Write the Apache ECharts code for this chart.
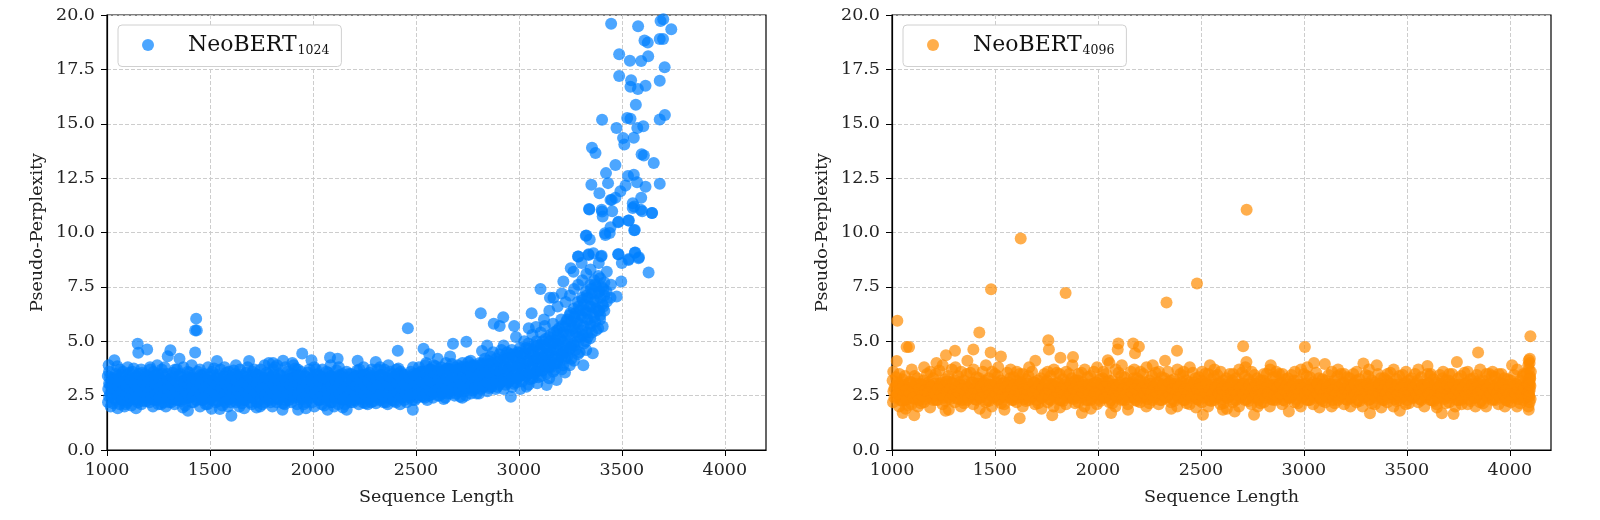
<!DOCTYPE html>
<html>
<head>
<meta charset="utf-8">
<script src="https://cdn.jsdelivr.net/npm/echarts@6/dist/echarts.min.js"></script>
<style>
    html, body { margin: 0; padding: 0; background: #fff; }
    #chart { width: 1600px; height: 520px; }
</style>
</head>
<body>
<div id="chart"></div>
<script>
// x ticks / y ticks
const xTicks = [1000, 1500, 2000, 2500, 3000, 3500, 4000];
const yTicks = [0, 2.5, 5, 7.5, 10, 12.5, 15, 17.5, 20];

// [sequence length, pseudo-perplexity]
const neo1024 = [
    [1005,2.2],[1006,2.8],[1004,3.4],[1008,3.9],[1020,2.5],[1022,3.1],[1036,4.13],[1018,2.0],
    [1040,2.3],[1038,2.9],[1042,3.5],[1052,1.92],[1060,2.6],[1058,3.2],[1062,2.1],[1063,3.7],
    [1080,2.4],[1082,3.0],[1078,3.6],[1085,2.0],[1100,2.7],[1098,2.2],[1103,3.3],[1101,3.8],
    [1120,2.5],[1122,3.1],[1118,2.05],[1124,3.6],[1141,1.92],[1145,2.8],[1147,2.3],[1149,4.89],
    [1152,4.47],[1143,3.4],[1165,2.6],[1163,3.2],[1167,2.1],[1166,3.7],[1185,2.4],[1187,3.0],
    [1183,3.5],[1195,4.62],[1205,2.7],[1207,2.2],[1203,3.3],[1209,3.8],[1225,2.5],[1227,3.1],
    [1223,2.0],[1226,3.6],[1245,2.9],[1243,2.3],[1247,3.5],[1244,3.9],[1265,2.6],[1267,3.2],
    [1263,2.1],[1266,3.7],[1295,4.31],[1288,2.4],[1290,3.0],[1292,3.5],[1286,2.0],[1308,4.59],
    [1310,2.8],[1312,2.2],[1309,3.3],[1330,2.5],[1332,3.1],[1328,2.1],[1331,3.7],[1352,4.2],
    [1350,2.7],[1348,2.3],[1351,3.4],[1370,2.6],[1372,3.2],[1368,1.95],[1371,3.8],[1393,1.81],
    [1390,2.4],[1388,3.0],[1392,3.6],[1410,2.8],[1412,2.2],[1408,3.4],[1411,3.9],[1428,5.5],
    [1433,6.04],[1436,5.5],[1428,4.48],[1430,2.6],[1432,3.1],[1450,2.5],[1452,2.0],[1448,3.3],
    [1451,3.7],[1470,2.9],[1468,2.3],[1472,3.5],[1490,2.6],[1492,3.2],[1488,2.1],[1491,3.8],
    [1510,2.4],[1512,3.0],[1508,1.9],[1511,3.6],[1534,4.09],[1530,2.7],[1528,2.2],[1532,3.3],
    [1550,2.5],[1552,3.1],[1548,1.88],[1551,3.7],[1570,2.8],[1572,2.3],[1568,3.4],[1571,3.8],
    [1590,2.6],[1592,3.2],[1588,2.0],[1591,3.6],[1604,1.57],[1607,2.4],[1603,3.0],[1625,2.7],
    [1627,2.2],[1623,3.5],[1626,3.9],[1645,2.5],[1647,3.1],[1643,2.0],[1646,3.7],[1665,2.9],
    [1667,2.3],[1663,3.4],[1666,1.92],[1690,4.09],[1685,2.6],[1687,3.2],[1683,3.8],[1705,2.4],
    [1707,3.0],[1703,2.1],[1706,3.6],[1725,2.8],[1727,2.2],[1723,3.5],[1726,1.95],[1745,2.6],
    [1747,3.1],[1743,2.0],[1746,3.7],[1765,3.9],[1767,2.5],[1763,3.3],[1766,2.2],[1785,2.9],
    [1787,2.3],[1783,3.5],[1786,4.0],[1806,4.0],[1805,2.6],[1807,3.2],[1803,2.0],[1808,3.7],
    [1825,2.4],[1827,3.0],[1823,2.2],[1826,3.9],[1855,4.1],[1845,2.8],[1852,1.85],[1843,3.4],
    [1865,2.6],[1867,3.1],[1863,2.1],[1866,3.8],[1885,2.5],[1887,3.3],[1883,2.3],[1900,4.0],
    [1905,2.9],[1928,1.85],[1903,3.5],[1906,3.9],[1925,2.6],[1927,3.2],[1923,2.1],[1926,3.7],
    [1948,4.44],[1945,2.4],[1947,3.0],[1943,3.6],[1965,2.8],[1967,2.2],[1963,3.4],[1966,1.92],
    [1993,4.13],[1985,2.6],[1987,3.1],[1983,3.7],[2005,2.5],[2007,2.0],[2003,3.3],[2006,3.8],
    [2025,2.9],[2027,2.3],[2023,3.5],[2045,2.6],[2047,3.2],[2043,2.1],[2046,3.7],[2065,2.4],
    [2067,3.0],[2071,1.85],[2066,3.6],[2083,4.25],[2085,2.8],[2087,2.2],[2088,3.4],[2086,3.9],
    [2105,2.6],[2107,3.1],[2103,2.0],[2120,4.2],[2125,2.5],[2127,3.3],[2123,2.1],[2126,3.8],
    [2145,1.95],[2147,2.9],[2143,3.5],[2146,2.3],[2164,1.85],[2165,2.6],[2167,3.2],[2163,3.6],
    [2185,2.4],[2187,3.0],[2183,2.2],[2186,3.5],[2217,4.1],[2205,2.8],[2207,3.4],[2203,2.3],
    [2225,2.6],[2227,3.1],[2223,2.1],[2226,3.7],[2245,2.5],[2247,3.3],[2243,2.2],[2246,3.8],
    [2265,2.9],[2267,2.4],[2263,3.5],[2266,2.1],[2285,2.7],[2287,3.2],[2283,2.2],[2286,3.7],
    [2305,4.05],[2307,2.5],[2303,3.0],[2306,2.15],[2325,2.8],[2327,2.3],[2323,3.4],[2326,3.8],
    [2345,2.6],[2347,3.1],[2343,2.2],[2346,3.7],[2365,2.4],[2367,3.3],[2363,2.1],[2366,3.9],
    [2385,2.9],[2387,2.3],[2383,3.5],[2405,2.7],[2407,3.2],[2403,2.2],[2406,3.7],[2412,4.56],
    [2425,2.5],[2427,3.0],[2423,2.1],[2426,3.6],[2445,2.8],[2447,3.4],[2443,2.3],[2461,5.6],
    [2465,2.6],[2467,3.1],[2485,1.85],[2485,2.7],[2487,3.3],[2483,2.3],[2486,3.8],[2505,2.9],
    [2507,2.4],[2503,3.5],[2525,3.0],[2527,2.5],[2523,3.6],[2537,4.66],[2550,4.0],[2545,2.8],
    [2547,3.3],[2543,2.4],[2546,3.9],[2565,4.4],[2567,3.1],[2563,2.5],[2566,3.7],[2585,2.9],
    [2587,3.4],[2583,2.4],[2586,3.9],[2605,3.0],[2607,2.5],[2603,3.6],[2606,4.2],[2625,3.2],
    [2627,2.6],[2623,3.8],[2645,2.9],[2647,3.4],[2643,2.4],[2646,4.0],[2665,3.1],[2667,2.6],
    [2663,3.7],[2666,4.3],[2680,4.88],[2685,3.0],[2687,2.5],[2683,3.6],[2705,3.2],[2707,2.7],
    [2703,3.9],[2725,2.4],[2727,3.4],[2723,2.9],[2726,4.0],[2745,4.98],[2747,3.2],[2743,2.5],
    [2746,3.7],[2765,3.0],[2767,2.6],[2763,3.6],[2766,4.1],[2785,3.3],[2787,2.8],[2783,3.9],
    [2815,6.29],[2805,3.1],[2807,2.6],[2803,3.6],[2821,4.55],[2825,3.4],[2827,2.9],[2823,4.0],
    [2826,3.7],[2845,3.2],[2847,2.7],[2843,3.8],[2846,4.8],[2865,3.5],[2867,2.9],[2863,4.3],
    [2878,5.8],[2885,3.3],[2887,2.8],[2883,3.9],[2907,5.7],[2905,3.6],[2903,3.0],[2906,4.4],
    [2924,6.1],[2925,3.4],[2927,2.8],[2923,4.1],[2926,4.8],[2945,3.7],[2947,3.1],[2943,4.5],
    [2961,2.45],[2965,3.3],[2967,2.9],[2963,3.8],[2966,4.6],[2977,5.7],[2985,3.6],[2987,3.1],
    [2983,4.2],[2986,5.2],[3005,3.4],[3007,2.8],[3003,3.9],[3006,4.7],[3025,3.7],[3037,2.91],
    [3023,4.4],[3026,5.0],[3045,3.5],[3047,3.0],[3043,4.1],[3046,4.9],[3048,5.6],[3062,6.29],
    [3065,3.8],[3067,3.3],[3063,4.5],[3066,5.3],[3083,5.65],[3085,3.6],[3089,3.07],[3083,4.2],
    [3086,5.0],[3105,7.4],[3105,3.9],[3107,3.4],[3103,4.6],[3106,5.4],[3122,6.0],[3125,4.1],
    [3135,2.99],[3123,4.8],[3126,5.7],[3151,7.0],[3145,3.8],[3147,3.3],[3143,4.4],[3146,5.2],
    [3148,6.4],[3165,4.2],[3167,3.6],[3163,4.9],[3166,5.8],[3168,7.0],[3183,3.22],[3185,4.0],
    [3187,4.6],[3186,5.5],[3188,6.6],[3205,4.4],[3207,3.7],[3203,5.1],[3206,6.0],[3208,7.2],
    [3216,7.75],[3224,3.56],[3225,4.2],[3227,4.8],[3226,5.7],[3228,6.8],[3245,4.6],[3247,3.9],
    [3243,5.3],[3246,6.2],[3248,7.1],[3252,8.36],[3265,4.9],[3267,4.1],[3263,5.6],[3266,6.5],
    [3268,7.4],[3265,8.2],[3285,5.2],[3287,4.4],[3283,5.9],[3286,6.8],[3288,7.6],[3289,8.9],
    [3287,8.9],[3305,5.5],[3313,3.9],[3303,6.2],[3306,7.0],[3308,7.8],[3305,8.6],[3325,5.0],
    [3327,4.6],[3323,6.4],[3326,7.3],[3328,8.1],[3325,9.85],[3328,9.86],[3338,8.97],[3345,5.8],
    [3346,5.14],[3343,6.6],[3346,7.6],[3348,8.3],[3341,11.08],[3342,11.06],[3344,9.68],[3339,9.0],
    [3352,12.2],[3355,13.9],[3362,9.05],[3365,6.1],[3359,4.45],[3363,6.9],[3366,7.8],[3372,13.65],
    [3385,5.6],[3387,6.4],[3383,7.2],[3386,8.0],[3388,8.6],[3391,11.8],[3394,6.0],[3399,8.9],
    [3402,8.93],[3402,11.05],[3404,10.96],[3404,15.18],[3407,5.68],[3405,6.7],[3403,7.5],[3407,10.73],
    [3418,9.97],[3420,9.89],[3423,12.73],[3427,6.83],[3425,7.3],[3427,8.2],[3433,12.27],[3441,9.98],
    [3445,7.0],[3447,7.6],[3445,10.24],[3445,11.5],[3448,19.6],[3451,11.5],[3453,10.98],[3469,13.1],
    [3469,11.6],[3474,14.8],[3475,7.06],[3482,9.0],[3482,10.47],[3484,9.0],[3484,10.5],[3487,18.19],
    [3487,17.2],[3493,11.9],[3497,7.75],[3500,8.6],[3506,14.34],[3512,14.05],[3518,12.16],[3526,15.26],
    [3530,12.6],[3532,8.74],[3532,10.55],[3534,8.78],[3534,10.55],[3539,17.9],[3542,16.7],[3542,15.23],
    [3545,17.0],[3553,11.35],[3553,11.13],[3558,14.36],[3558,12.65],[3560,10.1],[3560,11.2],[3563,10.12],
    [3563,9.07],[3565,9.08],[3568,15.87],[3574,12.31],[3575,14.8],[3578,16.6],[3579,19.48],[3581,8.82],
    [3583,8.86],[3592,11.05],[3594,11.6],[3594,17.88],[3596,13.6],[3599,10.98],[3604,14.88],[3607,13.54],
    [3610,18.83],[3615,16.75],[3615,12.1],[3626,18.73],[3628,18.1],[3630,8.16],[3646,10.9],[3647,10.9],
    [3655,13.2],[3684,18.9],[3684,16.98],[3684,15.2],[3684,12.24],[3688,19.72],[3700,18.9],[3701,19.8],
    [3708,17.6],[3709,15.4],[3740,19.34]
];

// more points from the dense part of the left band
const neo1024Band = [
    [1010,2.45],[1010,3.05],[1010,3.6],[1030,2.15],[1030,2.75],[1030,3.3],[1050,2.6],[1050,3.25],
    [1050,3.85],[1070,2.35],[1070,2.9],[1070,3.45],[1090,2.7],[1090,3.15],[1090,2.1],[1110,2.3],
    [1110,2.95],[1110,3.55],[1130,2.55],[1130,3.2],[1130,3.75],[1150,2.2],[1150,2.65],[1150,3.3],
    [1170,2.45],[1170,3.0],[1170,3.55],[1190,2.75],[1190,2.25],[1190,3.35],[1210,2.5],[1210,3.05],
    [1210,3.7],[1230,2.3],[1230,2.85],[1230,3.4],[1250,2.6],[1250,3.2],[1250,2.1],[1270,2.4],
    [1270,2.95],[1270,3.5],[1280,3.8],[1300,2.65],[1300,3.15],[1300,2.2],[1320,2.35],[1320,2.9],
    [1320,3.55],[1340,2.55],[1340,3.1],[1340,3.7],[1360,2.25],[1360,2.8],[1360,3.35],[1380,2.6],
    [1380,3.2],[1380,2.05],[1400,2.4],[1400,2.95],[1400,3.55],[1420,2.2],[1420,2.7],[1420,3.25],
    [1440,2.55],[1440,3.05],[1440,3.6],[1460,2.3],[1460,2.85],[1460,3.4],[1480,2.65],[1480,3.2],
    [1480,2.1],[1500,2.35],[1500,2.9],[1500,3.5],[1520,2.55],[1520,3.15],[1520,3.75],[1540,2.25],
    [1540,2.75],[1540,3.35],[1560,2.6],[1560,3.05],[1560,2.05],[1580,2.4],[1580,2.95],[1580,3.55],
    [1600,2.2],[1600,2.7],[1600,3.3],[1615,2.55],[1615,3.1],[1615,3.65],[1635,2.3],[1635,2.85],
    [1635,3.4],[1655,2.6],[1655,3.2],[1655,2.15],[1675,2.4],[1675,2.95],[1675,3.55],[1695,2.2],
    [1695,2.75],[1695,3.3],[1715,2.55],[1715,3.1],[1715,3.7],[1735,2.35],[1735,2.9],[1735,3.45],
    [1755,2.65],[1755,3.2],[1755,2.1],[1775,2.4],[1775,3.0],[1775,3.55],[1795,2.2],[1795,2.75],
    [1795,3.35],[1815,2.55],[1815,3.1],[1815,3.8],[1835,2.35],[1835,2.9],[1835,3.5],[1855,2.65],
    [1855,3.2],[1855,2.15],[1875,2.4],[1875,2.95],[1875,3.6],[1895,2.2],[1895,2.75],[1895,3.3],
    [1915,2.55],[1915,3.1],[1915,3.75],[1935,2.35],[1935,2.85],[1935,3.45],[1955,2.6],[1955,3.2],
    [1955,2.1],[1975,2.4],[1975,2.95],[1975,3.55],[1995,2.2],[1995,2.7],[1995,3.3],[2015,2.55],
    [2015,3.1],[2015,3.7],[2035,2.3],[2035,2.85],[2035,3.4],[2055,2.6],[2055,3.15],[2055,2.05],
    [2075,2.4],[2075,2.95],[2075,3.55],[2095,2.2],[2095,2.75],[2095,3.35],[2115,2.55],[2115,3.1],
    [2115,3.65],[2135,2.35],[2135,2.85],[2135,3.4],[2155,2.6],[2155,3.2],[2155,2.1],[2175,2.4],
    [2175,2.95],[2175,3.5],[2195,2.2],[2195,2.7],[2195,3.3],[2215,2.55],[2215,3.1],[2215,3.65],
    [2235,2.35],[2235,2.9],[2235,3.45],[2255,2.6],[2255,3.2],[2255,2.15],[2275,2.4],[2275,2.95],
    [2275,3.55],[2295,2.25],[2295,2.75],[2295,3.35],[2315,2.55],[2315,3.1],[2315,3.7],[2335,2.4],
    [2335,2.9],[2335,3.45],[2355,2.65],[2355,3.2],[2355,2.2],[2375,2.45],[2375,3.0],[2375,3.6],
    [2395,2.25],[2395,2.8],[2395,3.35],[2415,2.6],[2415,3.15],[2415,3.75],[2435,2.4],[2435,2.9],
    [2435,3.5],[2455,2.7],[2455,3.25],[2455,2.2],[2475,2.5],[2475,3.05],[2475,3.6],[2495,2.3],
    [2495,2.85],[2495,3.4],[2515,2.65],[2515,3.2],[2515,3.8],[2535,2.45],[2535,3.0],[2535,3.55],
    [2555,2.75],[2555,3.35],[2555,2.3],[2575,2.55],[2575,3.1],[2575,3.7],[2595,2.7],[2595,3.25],
    [2595,3.85],[2615,2.5],[2615,3.05],[2615,3.6],[2635,2.8],[2635,3.4],[2635,2.35],[2655,2.6],
    [2655,3.15],[2655,3.75],[2675,2.75],[2675,3.35],[2675,3.95],[2695,2.6],[2695,3.1],[2695,3.7],
    [2715,2.85],[2715,3.45],[2715,2.45],[2735,2.7],[2735,3.2],[2735,3.8],[2755,2.9],[2755,3.5],
    [2755,4.05],[2775,2.75],[2775,3.25],[2775,3.85],[2795,2.95],[2795,3.55],[2795,2.6],[2815,2.8],
    [2815,3.3],[2815,3.9],[2835,3.0],[2835,3.6],[2835,4.2],[2855,2.85],[2855,3.35],[2855,3.95],
    [2875,3.1],[2875,3.65],[2875,4.5],[2895,2.9],[2895,3.45],[2895,4.05],[2915,3.15],[2915,3.75],
    [2915,4.6],[2935,3.0],[2935,3.5],[2935,4.2],[2955,3.25],[2955,3.85],[2955,4.4],[2975,3.05],
    [2975,3.6],[2975,4.3],[2995,3.3],[2995,3.9],[2995,4.5],[3015,3.15],[3015,3.65],[3015,4.35],
    [3035,3.4],[3035,4.0],[3035,4.7],[3055,3.25],[3055,3.75],[3055,4.45],[3075,3.5],[3075,4.1],
    [3075,4.8],[3095,3.35],[3095,3.9],[3095,4.55],[3115,3.65],[3115,4.3],[3115,5.0],[3135,3.5],
    [3135,4.05],[3135,4.7],[3155,3.8],[3155,4.5],[3155,5.3],[3175,3.7],[3175,4.3],[3175,5.05],
    [3195,4.0],[3195,4.8],[3195,5.6],[3215,3.9],[3215,4.5],[3215,5.4],[3235,4.3],[3235,5.0],
    [3235,6.0],[3255,4.2],[3255,4.8],[3255,5.9],[3275,4.6],[3275,5.4],[3275,6.3],[3295,4.5],
    [3295,5.2],[3295,6.4],[3315,4.9],[3315,5.7],[3315,6.7],[3335,5.2],[3335,6.0],[3335,7.0],
    [3355,5.4],[3355,6.3],[3355,7.2],[3375,5.5],[3375,6.5],[3375,7.5],[3395,6.2],[3395,7.0],
    [3395,7.9],[3415,6.4],[3415,7.1],[3415,7.7]
];

// core of the left band, where the marks pile up solid
const neo1024Core = [
    [1015,2.6],[1015,3.0],[1015,3.35],[1035,2.4],[1035,2.85],[1035,3.2],[1055,2.5],[1055,2.95],
    [1055,3.4],[1075,2.3],[1075,2.7],[1075,3.1],[1095,2.55],[1095,2.95],[1095,3.45],[1115,2.4],
    [1115,2.8],[1115,3.25],[1135,2.35],[1135,2.75],[1135,3.05],[1155,2.5],[1155,2.9],[1155,3.5],
    [1175,2.25],[1175,2.7],[1175,3.15],[1195,2.55],[1195,2.9],[1195,3.4],[1215,2.35],[1215,2.8],
    [1215,3.2],[1235,2.6],[1235,3.0],[1235,3.45],[1255,2.4],[1255,2.8],[1255,3.3],[1275,2.55],
    [1275,3.05],[1275,2.2],[1295,2.45],[1295,2.85],[1295,3.25],[1315,2.6],[1315,3.0],[1315,3.4],
    [1335,2.3],[1335,2.75],[1335,3.2],[1355,2.5],[1355,2.95],[1355,3.5],[1375,2.35],[1375,2.8],
    [1375,3.1],[1395,2.55],[1395,3.05],[1395,3.35],[1415,2.45],[1415,2.9],[1415,3.3],[1435,2.3],
    [1435,2.75],[1435,3.2],[1455,2.6],[1455,3.0],[1455,3.45],[1475,2.4],[1475,2.8],[1475,3.25],
    [1495,2.5],[1495,2.95],[1495,3.35],[1515,2.3],[1515,2.75],[1515,3.2],[1535,2.55],[1535,3.0],
    [1535,3.45],[1555,2.4],[1555,2.85],[1555,3.25],[1575,2.6],[1575,3.05],[1575,2.2],[1595,2.35],
    [1595,2.8],[1595,3.4],[1610,2.55],[1610,2.95],[1610,3.3],[1630,2.4],[1630,2.8],[1630,3.2],
    [1650,2.5],[1650,2.95],[1650,3.45],[1670,2.3],[1670,2.7],[1670,3.1],[1690,2.55],[1690,3.0],
    [1690,3.4],[1710,2.4],[1710,2.8],[1710,3.25],[1730,2.6],[1730,3.05],[1730,3.45],[1750,2.35],
    [1750,2.8],[1750,3.3],[1770,2.5],[1770,2.9],[1770,3.35],[1790,2.4],[1790,2.85],[1790,3.2],
    [1810,2.6],[1810,3.0],[1810,3.45],[1830,2.35],[1830,2.75],[1830,3.25],[1850,2.5],[1850,2.95],
    [1850,3.4],[1870,2.3],[1870,2.8],[1870,3.2],[1890,2.55],[1890,3.0],[1890,3.5],[1910,2.4],
    [1910,2.85],[1910,3.3],[1930,2.6],[1930,3.05],[1930,3.4],[1950,2.35],[1950,2.8],[1950,3.25],
    [1970,2.5],[1970,2.95],[1970,3.35],[1990,2.4],[1990,2.85],[1990,3.2],[2010,2.6],[2010,3.0],
    [2010,3.45],[2030,2.35],[2030,2.75],[2030,3.2],[2050,2.5],[2050,2.9],[2050,3.35],[2070,2.3],
    [2070,2.8],[2070,3.25],[2090,2.55],[2090,2.95],[2090,3.4],[2110,2.4],[2110,2.85],[2110,3.2],
    [2130,2.6],[2130,3.0],[2130,3.45],[2150,2.35],[2150,2.75],[2150,3.25],[2170,2.5],[2170,2.9],
    [2170,3.35],[2190,2.3],[2190,2.8],[2190,3.2],[2210,2.55],[2210,2.95],[2210,3.4],[2230,2.4],
    [2230,2.85],[2230,3.25],[2250,2.6],[2250,3.0],[2250,3.45],[2270,2.35],[2270,2.8],[2270,3.2],
    [2290,2.5],[2290,2.95],[2290,3.4],[2310,2.4],[2310,2.85],[2310,3.25],[2330,2.6],[2330,3.05],
    [2330,3.45],[2350,2.4],[2350,2.8],[2350,3.3],[2370,2.55],[2370,3.0],[2370,3.4],[2390,2.45],
    [2390,2.9],[2390,3.3],[2410,2.65],[2410,3.05],[2410,3.5],[2430,2.45],[2430,2.85],[2430,3.3],
    [2450,2.6],[2450,3.0],[2450,3.45],[2470,2.4],[2470,2.9],[2470,3.35],[2490,2.6],[2490,3.1],
    [2490,3.5],[2510,2.55],[2510,3.0],[2510,3.45],[2530,2.7],[2530,3.15],[2530,3.6],[2550,2.6],
    [2550,3.05],[2550,3.5],[2570,2.75],[2570,3.2],[2570,3.65],[2590,2.65],[2590,3.1],[2590,3.55],
    [2610,2.8],[2610,3.25],[2610,3.7],[2630,2.7],[2630,3.15],[2630,3.6],[2650,2.85],[2650,3.3],
    [2650,3.75],[2670,2.75],[2670,3.2],[2670,3.65],[2690,2.9],[2690,3.35],[2690,3.8],[2710,2.8],
    [2710,3.25],[2710,3.7],[2730,2.95],[2730,3.4],[2730,3.85],[2750,2.85],[2750,3.3],[2750,3.75],
    [2770,3.0],[2770,3.45],[2770,3.9],[2790,2.9],[2790,3.35],[2790,3.8],[2810,3.05],[2810,3.5],
    [2810,4.0],[2830,2.95],[2830,3.45],[2830,3.9],[2850,3.1],[2850,3.6],[2850,4.1],[2870,3.0],
    [2870,3.5],[2870,4.0],[2890,3.15],[2890,3.7],[2890,4.2],[2910,3.1],[2910,3.6],[2910,4.1],
    [2930,3.25],[2930,3.8],[2930,4.3],[2950,3.2],[2950,3.7],[2950,4.2],[2970,3.35],[2970,3.9],
    [2970,4.4],[2990,3.3],[2990,3.8],[2990,4.35],[3010,3.45],[3010,4.0],[3010,4.5],[3030,3.4],
    [3030,3.9],[3030,4.45],[3050,3.55],[3050,4.1],[3050,4.65],[3070,3.5],[3070,4.05],[3070,4.6],
    [3090,3.7],[3090,4.25],[3090,4.8],[3110,3.65],[3110,4.2],[3110,4.85],[3130,3.85],[3130,4.4],
    [3130,5.1],[3150,3.9],[3150,4.6],[3150,5.0],[3170,4.0],[3170,4.75],[3170,5.4],[3190,4.2],
    [3190,4.9],[3190,5.3],[3210,4.3],[3210,5.0],[3210,5.7],[3230,4.5],[3230,5.3],[3230,5.9],
    [3250,4.7],[3250,5.5],[3250,6.3],[3270,4.8],[3270,5.7],[3270,6.1],[3290,5.0],[3290,5.8],
    [3290,6.6],[3310,5.3],[3310,6.1],[3310,6.9],[3330,5.4],[3330,6.3],[3330,7.1],[3350,5.7],
    [3350,6.6],[3350,7.4],[3370,5.9],[3370,6.8],[3370,7.6],[3390,6.4],[3390,7.3],[3410,6.6],
    [3410,7.4]
];

// [sequence length, pseudo-perplexity]
const neo4096 = [
    [1005,2.2],[1007,2.7],[1003,3.2],[1006,3.6],[1023,4.09],[1026,5.94],[1035,2.0],[1037,2.5],
    [1033,3.0],[1036,3.5],[1052,1.7],[1065,2.3],[1067,2.9],[1063,3.4],[1066,1.9],[1071,4.74],
    [1083,4.74],[1095,2.1],[1097,2.6],[1093,3.1],[1096,3.7],[1108,1.6],[1125,2.4],[1127,2.8],
    [1123,3.3],[1126,2.0],[1155,2.2],[1157,2.7],[1153,3.2],[1156,3.8],[1185,1.95],[1187,2.5],
    [1183,3.0],[1186,3.6],[1215,2.3],[1217,2.9],[1213,3.5],[1216,4.0],[1245,2.1],[1247,2.6],
    [1243,3.1],[1246,3.9],[1260,1.8],[1262,4.36],[1275,2.4],[1277,2.8],[1273,3.4],[1276,1.85],
    [1306,4.56],[1305,2.2],[1307,2.7],[1303,3.2],[1308,3.8],[1335,2.0],[1337,2.5],[1333,3.0],
    [1336,3.6],[1365,2.3],[1367,2.9],[1363,3.5],[1366,4.1],[1395,4.62],[1395,2.1],[1397,2.6],
    [1393,3.1],[1396,3.7],[1424,5.4],[1425,2.4],[1427,2.8],[1423,3.3],[1426,1.9],[1455,1.7],
    [1455,2.2],[1457,2.7],[1453,3.2],[1456,3.9],[1479,4.48],[1481,7.39],[1485,2.0],[1487,2.5],
    [1483,3.0],[1486,3.6],[1515,2.3],[1517,2.9],[1513,3.4],[1516,3.8],[1529,4.3],[1545,2.1],
    [1547,2.6],[1543,3.1],[1546,1.85],[1575,2.4],[1577,2.8],[1573,3.3],[1576,3.7],[1605,2.2],
    [1607,2.7],[1603,3.2],[1606,3.6],[1620,1.46],[1625,9.72],[1635,2.0],[1637,2.5],[1633,3.0],
    [1636,3.5],[1665,2.3],[1667,2.9],[1663,3.4],[1666,3.8],[1695,2.1],[1697,2.6],[1693,3.1],
    [1696,4.1],[1725,2.4],[1727,2.8],[1723,3.3],[1726,1.9],[1755,2.2],[1757,2.7],[1753,3.2],
    [1756,3.6],[1759,5.05],[1762,4.62],[1778,1.6],[1785,2.0],[1787,2.5],[1783,3.0],[1786,3.7],
    [1815,2.3],[1817,2.9],[1813,3.5],[1816,1.95],[1818,4.24],[1843,7.22],[1845,2.1],[1847,2.6],
    [1843,3.1],[1846,3.6],[1875,2.4],[1877,2.8],[1873,3.3],[1876,3.9],[1879,4.28],[1905,2.2],
    [1907,2.7],[1903,3.2],[1906,3.5],[1922,1.7],[1935,2.0],[1937,2.5],[1933,3.0],[1936,3.7],
    [1965,2.3],[1967,2.9],[1963,3.4],[1966,1.9],[1995,2.1],[1997,2.6],[1993,3.1],[1996,3.8],
    [2025,2.4],[2027,2.8],[2023,3.3],[2026,3.6],[2048,4.13],[2055,2.2],[2057,2.7],[2053,3.2],
    [2056,4.0],[2064,1.7],[2085,2.0],[2087,2.5],[2083,3.0],[2086,3.7],[2096,4.62],[2099,4.9],
    [2115,2.3],[2117,2.9],[2113,3.4],[2116,3.9],[2145,2.1],[2147,2.6],[2143,3.1],[2146,1.85],
    [2171,4.9],[2180,4.45],[2199,4.75],[2175,2.4],[2177,2.8],[2173,3.3],[2176,3.7],[2205,2.2],
    [2207,2.7],[2203,3.2],[2206,3.6],[2235,2.0],[2237,2.5],[2233,3.0],[2236,3.8],[2265,2.3],
    [2267,2.9],[2263,3.4],[2266,3.9],[2295,2.1],[2297,2.6],[2293,3.1],[2296,3.6],[2325,2.4],
    [2327,2.8],[2323,3.3],[2326,4.1],[2333,6.78],[2355,2.2],[2357,2.7],[2353,3.2],[2356,1.9],
    [2384,4.56],[2385,2.0],[2387,2.5],[2383,3.0],[2386,3.7],[2415,2.3],[2417,2.9],[2413,3.4],
    [2416,3.6],[2445,2.1],[2447,2.6],[2443,3.1],[2446,3.8],[2475,2.4],[2477,2.8],[2473,3.3],
    [2476,1.95],[2481,7.65],[2510,1.62],[2505,2.2],[2507,2.7],[2503,3.2],[2506,3.6],[2535,2.0],
    [2537,2.5],[2533,3.0],[2536,3.5],[2544,3.9],[2565,2.3],[2567,2.9],[2563,3.4],[2566,3.7],
    [2595,2.1],[2597,2.6],[2593,3.1],[2596,3.6],[2607,1.85],[2625,2.4],[2627,2.8],[2623,3.3],
    [2626,1.9],[2655,2.2],[2657,2.7],[2653,3.2],[2656,3.5],[2664,1.77],[2685,2.0],[2687,2.5],
    [2683,3.0],[2686,3.7],[2705,4.77],[2721,4.05],[2722,11.05],[2715,2.3],[2717,2.9],[2713,3.4],
    [2716,3.8],[2745,2.1],[2747,2.6],[2743,3.1],[2746,3.6],[2758,1.62],[2775,2.4],[2777,2.8],
    [2773,3.3],[2776,2.0],[2805,2.2],[2807,2.7],[2803,3.2],[2806,3.5],[2839,3.9],[2835,2.0],
    [2837,2.5],[2833,3.0],[2836,3.7],[2865,2.3],[2867,2.9],[2863,3.4],[2866,3.6],[2895,2.1],
    [2897,2.6],[2893,3.1],[2896,3.5],[2927,1.77],[2925,2.4],[2927,2.8],[2923,3.3],[2955,2.2],
    [2957,2.7],[2953,3.2],[2956,3.6],[2985,2.0],[2987,2.5],[2983,3.0],[2986,3.7],[3005,4.74],
    [3015,2.3],[3017,2.9],[3013,3.4],[3016,3.8],[3049,4.0],[3045,2.1],[3047,2.6],[3043,3.1],
    [3075,2.4],[3077,2.8],[3073,3.3],[3076,1.95],[3102,3.95],[3105,2.2],[3107,2.7],[3103,3.2],
    [3135,2.0],[3137,2.5],[3133,3.0],[3136,3.6],[3165,2.3],[3167,2.9],[3163,3.4],[3166,3.7],
    [3195,2.1],[3197,2.6],[3193,3.1],[3196,3.5],[3225,2.4],[3227,2.8],[3223,3.3],[3226,2.0],
    [3255,2.2],[3257,2.7],[3253,3.2],[3256,3.6],[3289,3.98],[3285,2.0],[3287,2.5],[3283,3.0],
    [3315,2.3],[3317,2.9],[3313,3.4],[3316,3.7],[3321,1.69],[3345,2.1],[3347,2.6],[3343,3.1],
    [3354,3.9],[3375,2.4],[3377,2.8],[3373,3.3],[3376,1.95],[3405,2.2],[3407,2.7],[3403,3.2],
    [3406,3.5],[3435,2.0],[3437,2.5],[3433,3.0],[3436,3.7],[3465,2.3],[3467,2.9],[3463,3.4],
    [3466,1.8],[3495,2.1],[3497,2.6],[3493,3.1],[3496,3.6],[3525,2.4],[3527,2.8],[3523,3.3],
    [3555,2.2],[3557,2.7],[3553,3.2],[3556,3.7],[3585,2.0],[3587,2.5],[3583,3.0],[3600,3.86],
    [3615,2.3],[3617,2.9],[3613,3.4],[3616,3.5],[3645,2.1],[3647,2.6],[3643,3.1],[3646,1.95],
    [3670,1.69],[3675,2.4],[3677,2.8],[3673,3.3],[3676,3.6],[3705,2.2],[3707,2.7],[3703,3.2],
    [3706,3.5],[3727,1.66],[3743,4.05],[3735,2.0],[3737,2.5],[3733,3.0],[3765,2.3],[3767,2.9],
    [3763,3.4],[3766,2.1],[3795,2.1],[3797,2.6],[3793,3.1],[3796,3.6],[3833,2.0],[3846,4.48],
    [3825,2.4],[3827,2.8],[3823,3.3],[3855,2.2],[3857,2.7],[3853,3.2],[3856,3.7],[3885,2.0],
    [3887,2.5],[3883,3.0],[3886,3.5],[3915,2.3],[3917,2.9],[3913,3.4],[3916,3.6],[3945,2.1],
    [3947,2.6],[3943,3.1],[3946,3.5],[3975,2.4],[3977,2.8],[3973,3.3],[3976,2.0],[4011,3.9],
    [4005,2.2],[4007,2.7],[4003,3.2],[4035,2.0],[4037,2.5],[4033,3.0],[4036,3.7],[4065,2.3],
    [4067,2.9],[4063,3.4],[4066,3.5],[4092,1.85],[4096,2.2],[4094,2.5],[4097,2.8],[4095,3.1],
    [4098,3.4],[4093,3.7],[4096,4.0],[4092,4.13],[4100,5.23],[4090,2.0],[4091,2.6],[4099,3.3],
    [4090,3.9],[4101,2.35],[4100,2.95],[4102,3.6],[4097,4.2]
];

// more points from the dense part of the right band
const neo4096Band = [
    [1020,2.45],[1020,2.95],[1020,3.35],[1050,2.25],[1050,2.75],[1050,3.25],[1080,2.55],[1080,3.05],
    [1080,2.05],[1110,2.35],[1110,2.85],[1110,3.4],[1140,2.15],[1140,2.6],[1140,3.05],[1170,2.45],
    [1170,2.95],[1170,3.5],[1200,2.3],[1200,2.8],[1200,3.3],[1230,2.5],[1230,3.05],[1230,3.65],
    [1260,2.25],[1260,2.75],[1260,3.25],[1290,2.55],[1290,3.1],[1290,3.7],[1320,2.35],[1320,2.85],
    [1320,3.4],[1350,2.15],[1350,2.65],[1350,3.2],[1380,2.5],[1380,3.0],[1380,3.55],[1410,2.3],
    [1410,2.8],[1410,3.35],[1440,2.55],[1440,3.05],[1440,3.6],[1470,2.25],[1470,2.75],[1470,3.3],
    [1500,2.45],[1500,2.95],[1500,3.5],[1530,2.15],[1530,2.7],[1530,3.2],[1560,2.5],[1560,3.0],
    [1560,3.55],[1590,2.3],[1590,2.85],[1590,3.35],[1620,2.55],[1620,3.05],[1620,3.5],[1650,2.25],
    [1650,2.75],[1650,3.25],[1680,2.45],[1680,2.95],[1680,3.6],[1710,2.15],[1710,2.65],[1710,3.2],
    [1740,2.5],[1740,3.0],[1740,3.5],[1770,2.3],[1770,2.8],[1770,3.4],[1800,2.55],[1800,3.05],
    [1800,3.55],[1830,2.25],[1830,2.75],[1830,3.25],[1860,2.45],[1860,2.95],[1860,3.5],[1890,2.15],
    [1890,2.7],[1890,3.2],[1920,2.5],[1920,3.0],[1920,3.55],[1950,2.3],[1950,2.8],[1950,3.35],
    [1980,2.55],[1980,3.05],[1980,3.6],[2010,2.25],[2010,2.75],[2010,3.25],[2040,2.45],[2040,2.95],
    [2040,3.5],[2070,2.15],[2070,2.65],[2070,3.2],[2100,2.5],[2100,3.0],[2100,3.55],[2130,2.3],
    [2130,2.85],[2130,3.35],[2160,2.55],[2160,3.05],[2160,3.6],[2190,2.25],[2190,2.75],[2190,3.3],
    [2220,2.45],[2220,2.95],[2220,3.5],[2250,2.15],[2250,2.7],[2250,3.2],[2280,2.5],[2280,3.0],
    [2280,3.55],[2310,2.3],[2310,2.8],[2310,3.35],[2340,2.55],[2340,3.05],[2340,3.6],[2370,2.25],
    [2370,2.75],[2370,3.25],[2400,2.45],[2400,2.95],[2400,3.5],[2430,2.15],[2430,2.65],[2430,3.2],
    [2460,2.5],[2460,3.0],[2460,3.55],[2490,2.3],[2490,2.85],[2490,3.35],[2520,2.55],[2520,3.05],
    [2520,3.5],[2550,2.25],[2550,2.75],[2550,3.25],[2580,2.45],[2580,2.95],[2580,3.45],[2610,2.15],
    [2610,2.7],[2610,3.2],[2640,2.5],[2640,3.0],[2640,3.5],[2670,2.3],[2670,2.8],[2670,3.3],
    [2700,2.55],[2700,3.05],[2700,3.55],[2730,2.25],[2730,2.75],[2730,3.25],[2760,2.45],[2760,2.95],
    [2760,3.45],[2790,2.15],[2790,2.65],[2790,3.2],[2820,2.5],[2820,3.0],[2820,3.5],[2850,2.3],
    [2850,2.85],[2850,3.35],[2880,2.55],[2880,3.05],[2880,3.5],[2910,2.25],[2910,2.75],[2910,3.25],
    [2940,2.45],[2940,2.95],[2940,3.45],[2970,2.15],[2970,2.7],[2970,3.2],[3000,2.5],[3000,3.0],
    [3000,3.5],[3030,2.3],[3030,2.8],[3030,3.35],[3060,2.55],[3060,3.05],[3060,3.55],[3090,2.25],
    [3090,2.75],[3090,3.25],[3120,2.45],[3120,2.95],[3120,3.45],[3150,2.15],[3150,2.65],[3150,3.2],
    [3180,2.5],[3180,3.0],[3180,3.5],[3210,2.3],[3210,2.85],[3210,3.35],[3240,2.55],[3240,3.05],
    [3240,3.5],[3270,2.25],[3270,2.75],[3270,3.25],[3300,2.45],[3300,2.95],[3300,3.45],[3330,2.15],
    [3330,2.7],[3330,3.2],[3360,2.5],[3360,3.0],[3360,3.5],[3390,2.3],[3390,2.8],[3390,3.3],
    [3420,2.55],[3420,3.05],[3420,3.55],[3450,2.25],[3450,2.75],[3450,3.25],[3480,2.45],[3480,2.95],
    [3480,3.45],[3510,2.15],[3510,2.65],[3510,3.2],[3540,2.5],[3540,3.0],[3540,3.5],[3570,2.3],
    [3570,2.85],[3570,3.35],[3600,2.55],[3600,3.05],[3600,3.5],[3630,2.25],[3630,2.75],[3630,3.25],
    [3660,2.45],[3660,2.95],[3660,3.45],[3690,2.15],[3690,2.7],[3690,3.2],[3720,2.5],[3720,3.0],
    [3720,3.5],[3750,2.3],[3750,2.8],[3750,3.3],[3780,2.55],[3780,3.05],[3780,3.55],[3810,2.25],
    [3810,2.75],[3810,3.25],[3840,2.45],[3840,2.95],[3840,3.45],[3870,2.15],[3870,2.65],[3870,3.2],
    [3900,2.5],[3900,3.0],[3900,3.5],[3930,2.3],[3930,2.85],[3930,3.35],[3960,2.55],[3960,3.05],
    [3960,3.5],[3990,2.25],[3990,2.75],[3990,3.25],[4020,2.45],[4020,2.95],[4020,3.45],[4050,2.15],
    [4050,2.7],[4050,3.2],[4080,2.5],[4080,3.0],[4080,3.5]
];

// core of the right band, where the marks pile up solid
const neo4096Core = [
    [1012,2.4],[1012,2.85],[1027,2.6],[1027,3.1],[1042,2.3],[1042,2.8],[1057,2.55],[1057,3.0],
    [1072,2.35],[1072,2.75],[1087,2.65],[1087,3.15],[1102,2.4],[1102,2.9],[1117,2.6],[1117,3.05],
    [1132,2.3],[1132,2.8],[1147,2.5],[1147,3.0],[1162,2.35],[1162,2.75],[1177,2.65],[1177,3.1],
    [1192,2.4],[1192,2.9],[1207,2.6],[1207,3.05],[1222,2.3],[1222,2.8],[1237,2.55],[1237,3.0],
    [1252,2.4],[1252,2.85],[1267,2.65],[1267,3.15],[1282,2.35],[1282,2.8],[1297,2.55],[1297,3.05],
    [1312,2.4],[1312,2.9],[1327,2.65],[1327,3.1],[1342,2.3],[1342,2.8],[1357,2.55],[1357,3.0],
    [1372,2.4],[1372,2.85],[1387,2.6],[1387,3.1],[1402,2.35],[1402,2.8],[1417,2.55],[1417,3.05],
    [1432,2.4],[1432,2.9],[1447,2.65],[1447,3.1],[1462,2.3],[1462,2.8],[1477,2.55],[1477,3.0],
    [1492,2.4],[1492,2.85],[1507,2.6],[1507,3.1],[1522,2.35],[1522,2.8],[1537,2.55],[1537,3.05],
    [1552,2.4],[1552,2.9],[1567,2.65],[1567,3.1],[1582,2.3],[1582,2.8],[1597,2.55],[1597,3.0],
    [1612,2.4],[1612,2.85],[1627,2.6],[1627,3.1],[1642,2.35],[1642,2.8],[1657,2.55],[1657,3.05],
    [1672,2.4],[1672,2.9],[1687,2.65],[1687,3.1],[1702,2.3],[1702,2.8],[1717,2.55],[1717,3.0],
    [1732,2.4],[1732,2.85],[1747,2.6],[1747,3.1],[1762,2.35],[1762,2.8],[1777,2.55],[1777,3.05],
    [1792,2.4],[1792,2.9],[1807,2.65],[1807,3.1],[1822,2.3],[1822,2.8],[1837,2.55],[1837,3.0],
    [1852,2.4],[1852,2.85],[1867,2.6],[1867,3.1],[1882,2.35],[1882,2.8],[1897,2.55],[1897,3.05],
    [1912,2.4],[1912,2.9],[1927,2.65],[1927,3.1],[1942,2.3],[1942,2.8],[1957,2.55],[1957,3.0],
    [1972,2.4],[1972,2.85],[1987,2.6],[1987,3.1],[2002,2.35],[2002,2.8],[2017,2.55],[2017,3.05],
    [2032,2.4],[2032,2.9],[2047,2.65],[2047,3.1],[2062,2.3],[2062,2.8],[2077,2.55],[2077,3.0],
    [2092,2.4],[2092,2.85],[2107,2.6],[2107,3.1],[2122,2.35],[2122,2.8],[2137,2.55],[2137,3.05],
    [2152,2.4],[2152,2.9],[2167,2.65],[2167,3.1],[2182,2.3],[2182,2.8],[2197,2.55],[2197,3.0],
    [2212,2.4],[2212,2.85],[2227,2.6],[2227,3.1],[2242,2.35],[2242,2.8],[2257,2.55],[2257,3.05],
    [2272,2.4],[2272,2.9],[2287,2.65],[2287,3.1],[2302,2.3],[2302,2.8],[2317,2.55],[2317,3.0],
    [2332,2.4],[2332,2.85],[2347,2.6],[2347,3.1],[2362,2.35],[2362,2.8],[2377,2.55],[2377,3.05],
    [2392,2.4],[2392,2.9],[2407,2.65],[2407,3.1],[2422,2.3],[2422,2.8],[2437,2.55],[2437,3.0],
    [2452,2.4],[2452,2.85],[2467,2.6],[2467,3.1],[2482,2.35],[2482,2.8],[2497,2.55],[2497,3.05],
    [2512,2.4],[2512,2.9],[2527,2.6],[2527,3.05],[2542,2.3],[2542,2.75],[2557,2.55],[2557,3.0],
    [2572,2.4],[2572,2.85],[2587,2.6],[2587,3.05],[2602,2.35],[2602,2.8],[2617,2.55],[2617,3.0],
    [2632,2.4],[2632,2.85],[2647,2.6],[2647,3.05],[2662,2.3],[2662,2.75],[2677,2.55],[2677,3.0],
    [2692,2.4],[2692,2.85],[2707,2.6],[2707,3.05],[2722,2.35],[2722,2.8],[2737,2.55],[2737,3.0],
    [2752,2.4],[2752,2.85],[2767,2.6],[2767,3.05],[2782,2.3],[2782,2.75],[2797,2.55],[2797,3.0],
    [2812,2.4],[2812,2.85],[2827,2.6],[2827,3.05],[2842,2.35],[2842,2.8],[2857,2.55],[2857,3.0],
    [2872,2.4],[2872,2.85],[2887,2.6],[2887,3.05],[2902,2.3],[2902,2.75],[2917,2.55],[2917,3.0],
    [2932,2.4],[2932,2.85],[2947,2.6],[2947,3.05],[2962,2.35],[2962,2.8],[2977,2.55],[2977,3.0],
    [2992,2.4],[2992,2.85],[3007,2.6],[3007,3.05],[3022,2.3],[3022,2.75],[3037,2.55],[3037,3.0],
    [3052,2.4],[3052,2.85],[3067,2.6],[3067,3.05],[3082,2.35],[3082,2.8],[3097,2.55],[3097,3.0],
    [3112,2.4],[3112,2.85],[3127,2.6],[3127,3.05],[3142,2.3],[3142,2.75],[3157,2.55],[3157,3.0],
    [3172,2.4],[3172,2.85],[3187,2.6],[3187,3.05],[3202,2.35],[3202,2.8],[3217,2.55],[3217,3.0],
    [3232,2.4],[3232,2.85],[3247,2.6],[3247,3.05],[3262,2.3],[3262,2.75],[3277,2.55],[3277,3.0],
    [3292,2.4],[3292,2.85],[3307,2.6],[3307,3.05],[3322,2.35],[3322,2.8],[3337,2.55],[3337,3.0],
    [3352,2.4],[3352,2.85],[3367,2.6],[3367,3.05],[3382,2.3],[3382,2.75],[3397,2.55],[3397,3.0],
    [3412,2.4],[3412,2.85],[3427,2.6],[3427,3.05],[3442,2.35],[3442,2.8],[3457,2.55],[3457,3.0],
    [3472,2.4],[3472,2.85],[3487,2.6],[3487,3.05],[3502,2.3],[3502,2.75],[3517,2.55],[3517,3.0],
    [3532,2.4],[3532,2.85],[3547,2.6],[3547,3.05],[3562,2.35],[3562,2.8],[3577,2.55],[3577,3.0],
    [3592,2.4],[3592,2.85],[3607,2.6],[3607,3.05],[3622,2.3],[3622,2.75],[3637,2.55],[3637,3.0],
    [3652,2.4],[3652,2.85],[3667,2.6],[3667,3.05],[3682,2.35],[3682,2.8],[3697,2.55],[3697,3.0],
    [3712,2.4],[3712,2.85],[3727,2.6],[3727,3.05],[3742,2.3],[3742,2.75],[3757,2.55],[3757,3.0],
    [3772,2.4],[3772,2.85],[3787,2.6],[3787,3.05],[3802,2.35],[3802,2.8],[3817,2.55],[3817,3.0],
    [3832,2.4],[3832,2.85],[3847,2.6],[3847,3.05],[3862,2.3],[3862,2.75],[3877,2.55],[3877,3.0],
    [3892,2.4],[3892,2.85],[3907,2.6],[3907,3.05],[3922,2.35],[3922,2.8],[3937,2.55],[3937,3.0],
    [3952,2.4],[3952,2.85],[3967,2.6],[3967,3.05],[3982,2.3],[3982,2.75],[3997,2.55],[3997,3.0],
    [4012,2.4],[4012,2.85],[4027,2.6],[4027,3.05],[4042,2.35],[4042,2.8],[4057,2.55],[4057,3.0],
    [4072,2.4],[4072,2.85],[4087,2.6],[4087,3.05],[4095,2.45],[4095,2.7],[4096,3.0],[4096,3.25]
];

let chart = echarts.init(document.getElementById('chart'));

const fontFamily = 'DejaVu Serif';

let make_x_axis = function (gridIndex) {
    return {
        type: 'value',
        gridIndex: gridIndex,
        min: 1000,
        max: 4200,
        name: 'Sequence Length',
        nameLocation: 'middle',
        nameGap: 38,
        nameTextStyle: {fontFamily: fontFamily, fontSize: 17.5, color: '#222'},
        axisLine: {show: true, onZero: false, lineStyle: {color: '#000', width: 1.2}},
        axisTick: {show: true, length: 6, customValues: xTicks, lineStyle: {color: '#000'}},
        axisLabel: {
            customValues: xTicks, margin: 11, fontFamily: fontFamily, fontSize: 17.5, color: '#222',
            formatter: function (v) { return String(v); }
        },
        splitLine: {show: true, lineStyle: {color: '#cdcdcd', type: [4, 2], width: 1}}
    };
};

let make_y_axis = function (gridIndex) {
    return {
        type: 'value',
        gridIndex: gridIndex,
        min: 0,
        max: 20,
        interval: 2.5,
        name: 'Pseudo-Perplexity',
        nameLocation: 'middle',
        nameGap: 61,
        nameTextStyle: {fontFamily: fontFamily, fontSize: 17.5, color: '#222'},
        axisLine: {show: true, onZero: false, lineStyle: {color: '#000', width: 1.2}},
        axisTick: {show: true, length: 6, lineStyle: {color: '#000'}},
        axisLabel: {
            margin: 12, fontFamily: fontFamily, fontSize: 17.5, color: '#222',
            formatter: function (v) { return v.toFixed(1); }
        },
        splitLine: {show: true, lineStyle: {color: '#cdcdcd', type: [4, 2], width: 1}}
    };
};

let make_legend = function (name, left) {
    return {
        data: [name],
        left: left,
        top: 25,
        icon: 'circle',
        itemWidth: 12,
        itemHeight: 12,
        padding: [9, 12, 9, 24],
        backgroundColor: '#fff',
        borderColor: '#d0d0d0',
        borderWidth: 1,
        borderRadius: 4,
        formatter: function (n) {
            return '{g|}{a|NeoBERT}{b|' + n.replace('NeoBERT', '') + '}';
        },
        textStyle: {
            fontFamily: fontFamily,
            rich: {
                g: {width: 29},
                a: {fontSize: 22, fontFamily: fontFamily, color: '#111', lineHeight: 24},
                b: {fontSize: 12.5, fontFamily: fontFamily, color: '#111', padding: [12, 0, 0, 1]}
            }
        }
    };
};

let option = {
    backgroundColor: '#fff',
    animation: false,
    grid: [
        {left: 107, top: 15, width: 659, height: 435, show: true, borderColor: '#000', borderWidth: 1.2, backgroundColor: 'transparent'},
        {left: 892, top: 15, width: 659, height: 435, show: true, borderColor: '#000', borderWidth: 1.2, backgroundColor: 'transparent'}
    ],
    xAxis: [make_x_axis(0), make_x_axis(1)],
    yAxis: [make_y_axis(0), make_y_axis(1)],
    legend: [make_legend('NeoBERT1024', 118), make_legend('NeoBERT4096', 903)],
    series: [
        {
            name: 'NeoBERT1024',
            type: 'scatter',
            xAxisIndex: 0,
            yAxisIndex: 0,
            symbolSize: 12,
            large: false,
            itemStyle: {color: '#0080ff', opacity: 0.7},
            data: neo1024.concat(neo1024Band, neo1024Core)
        },
        {
            name: 'NeoBERT4096',
            type: 'scatter',
            xAxisIndex: 1,
            yAxisIndex: 1,
            symbolSize: 12,
            large: false,
            itemStyle: {color: '#ff8c00', opacity: 0.7},
            data: neo4096.concat(neo4096Band, neo4096Core)
        }
    ]
};

chart.setOption(option);
</script>
</body>
</html>
